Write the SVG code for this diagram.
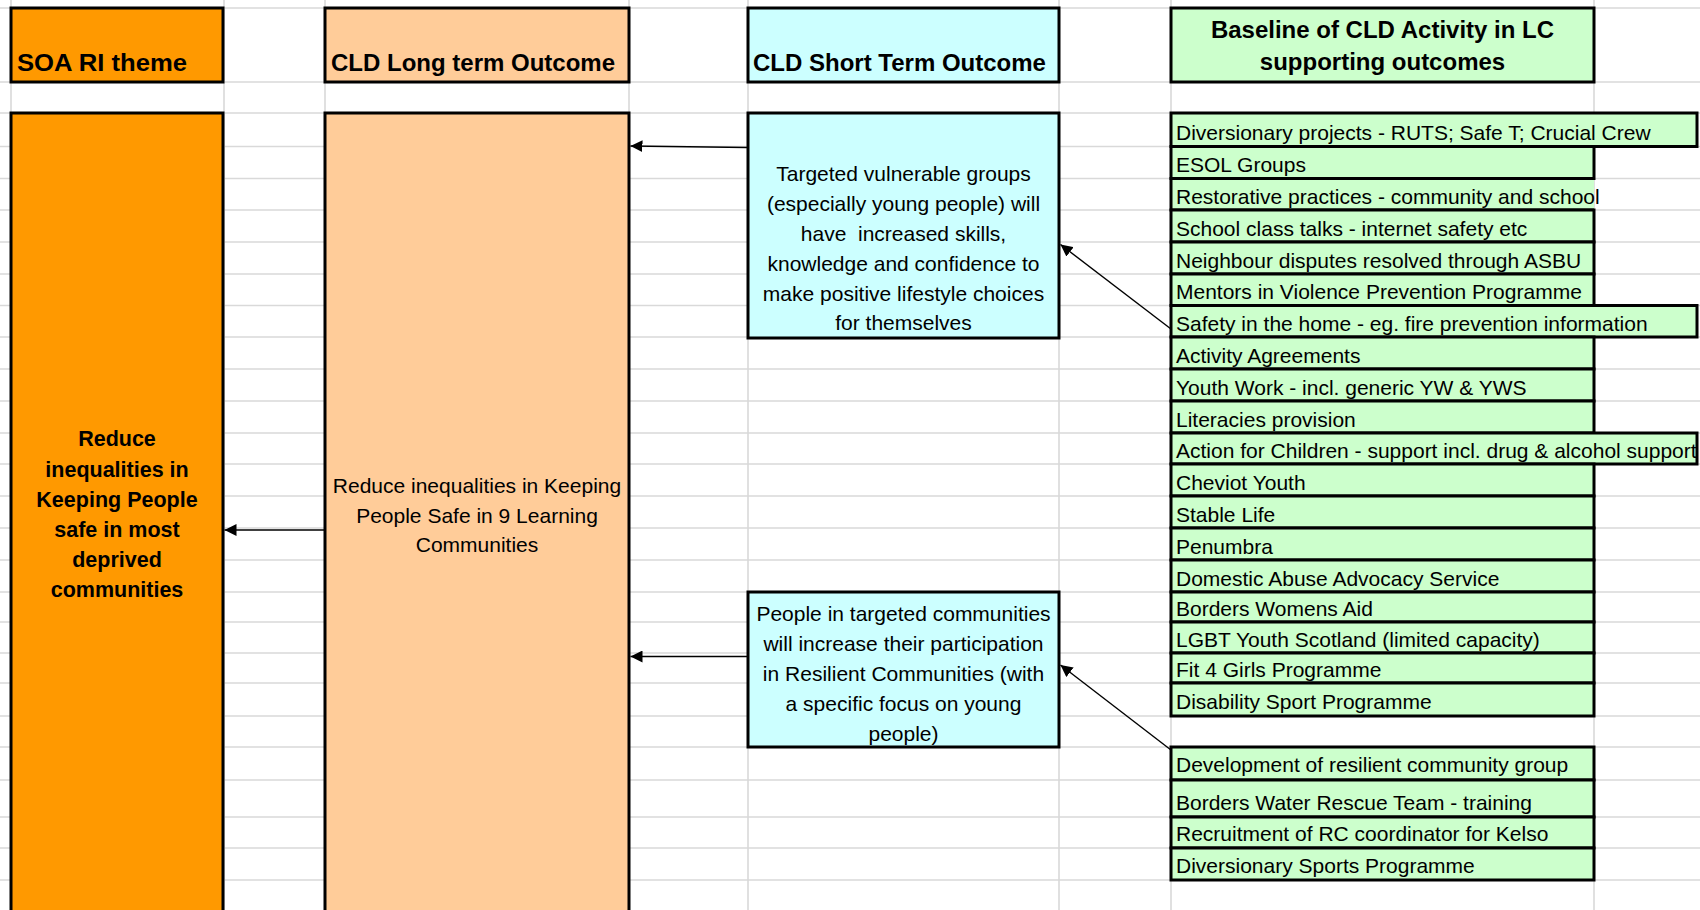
<svg xmlns="http://www.w3.org/2000/svg" width="1700" height="910" viewBox="0 0 1700 910">
<style>
.grid line{stroke:#d9d9d9;stroke-width:1.6}
.box{stroke:#000;stroke-width:3}
.soa{fill:#ff9900}
.lt{fill:#ffcc99}
.st{fill:#ccffff}
.bl{fill:#ccffcc}
text{font-family:"Liberation Sans",Arial,sans-serif;fill:#000}
.hd{font-size:24px;font-weight:bold}
.bd{font-size:21px}
.bb{font-size:21.5px;font-weight:bold}
.c{text-anchor:middle}
.conn line{stroke:#000;stroke-width:1.4}
</style>
<defs>
<marker id="ah" markerUnits="userSpaceOnUse" markerWidth="14" markerHeight="12" refX="12" refY="6" orient="auto">
<path d="M0,0 L12,6 L0,12 Z" fill="#000"/>
</marker>
</defs>
<rect width="1700" height="910" fill="#fff"/>
<g class="grid">
<line x1="0" y1="8" x2="1700" y2="8"/>
<line x1="0" y1="82" x2="1700" y2="82"/>
<line x1="0" y1="113" x2="1700" y2="113"/>
<line x1="0" y1="146.5" x2="1700" y2="146.5"/>
<line x1="0" y1="178.5" x2="1700" y2="178.5"/>
<line x1="0" y1="210" x2="1700" y2="210"/>
<line x1="0" y1="242" x2="1700" y2="242"/>
<line x1="0" y1="274" x2="1700" y2="274"/>
<line x1="0" y1="305.5" x2="1700" y2="305.5"/>
<line x1="0" y1="337" x2="1700" y2="337"/>
<line x1="0" y1="369" x2="1700" y2="369"/>
<line x1="0" y1="401" x2="1700" y2="401"/>
<line x1="0" y1="433" x2="1700" y2="433"/>
<line x1="0" y1="464" x2="1700" y2="464"/>
<line x1="0" y1="496" x2="1700" y2="496"/>
<line x1="0" y1="528" x2="1700" y2="528"/>
<line x1="0" y1="560" x2="1700" y2="560"/>
<line x1="0" y1="592" x2="1700" y2="592"/>
<line x1="0" y1="622" x2="1700" y2="622"/>
<line x1="0" y1="653" x2="1700" y2="653"/>
<line x1="0" y1="683" x2="1700" y2="683"/>
<line x1="0" y1="716" x2="1700" y2="716"/>
<line x1="0" y1="747" x2="1700" y2="747"/>
<line x1="0" y1="780" x2="1700" y2="780"/>
<line x1="0" y1="817" x2="1700" y2="817"/>
<line x1="0" y1="848" x2="1700" y2="848"/>
<line x1="0" y1="880" x2="1700" y2="880"/>
<line x1="11" y1="0" x2="11" y2="910"/>
<line x1="224" y1="0" x2="224" y2="910"/>
<line x1="325" y1="0" x2="325" y2="910"/>
<line x1="629" y1="0" x2="629" y2="910"/>
<line x1="748" y1="0" x2="748" y2="910"/>
<line x1="1059" y1="0" x2="1059" y2="910"/>
<line x1="1171" y1="0" x2="1171" y2="910"/>
<line x1="1594" y1="0" x2="1594" y2="910"/>
</g>

<g id="hdr-soa"><rect class="box soa" x="11" y="8" width="212" height="74"/><text class="hd" x="17" y="71" textLength="170" lengthAdjust="spacingAndGlyphs">SOA RI theme</text></g>
<g id="hdr-long"><rect class="box lt" x="325" y="8" width="304" height="74"/><text class="hd" x="331" y="71">CLD Long term Outcome</text></g>
<g id="hdr-short"><rect class="box st" x="748" y="8" width="311" height="74"/><text class="hd" x="753" y="71">CLD Short Term Outcome</text></g>
<g id="hdr-base"><rect class="box bl" x="1171" y="8" width="423" height="74"/><text class="hd c" x="1382.5" y="38">Baseline of CLD Activity in LC</text><text class="hd c" x="1382.5" y="70">supporting outcomes</text></g>

<g id="soa-theme"><rect class="box soa" x="11" y="113" width="212" height="810"/>
<text class="bb c" x="117" y="446">Reduce</text>
<text class="bb c" x="117" y="477">inequalities in</text>
<text class="bb c" x="117" y="507">Keeping People</text>
<text class="bb c" x="117" y="537">safe in most</text>
<text class="bb c" x="117" y="567">deprived</text>
<text class="bb c" x="117" y="597">communities</text>
</g>
<g id="long-outcome"><rect class="box lt" x="325" y="113" width="304" height="810"/>
<text class="bd c" x="477" y="493">Reduce inequalities in Keeping</text>
<text class="bd c" x="477" y="523">People Safe in 9 Learning</text>
<text class="bd c" x="477" y="552">Communities</text>
</g>
<g id="short-1"><rect class="box st" x="748" y="113" width="311" height="225"/>
<text class="bd c" x="903.5" y="181">Targeted vulnerable groups</text>
<text class="bd c" x="903.5" y="211">(especially young people) will</text>
<text class="bd c" x="903.5" y="241" xml:space="preserve">have  increased skills,</text>
<text class="bd c" x="903.5" y="271">knowledge and confidence to</text>
<text class="bd c" x="903.5" y="301">make positive lifestyle choices</text>
<text class="bd c" x="903.5" y="330">for themselves</text>
</g>
<g id="short-2"><rect class="box st" x="748" y="592" width="311" height="155"/>
<text class="bd c" x="903.5" y="621">People in targeted communities</text>
<text class="bd c" x="903.5" y="651">will increase their participation</text>
<text class="bd c" x="903.5" y="681">in Resilient Communities (with</text>
<text class="bd c" x="903.5" y="711">a specific focus on young</text>
<text class="bd c" x="903.5" y="741">people)</text>
</g>

<g id="activities">
<g id="a1"><rect class="box bl" x="1171" y="113" width="526" height="33.5"/><text class="bd" x="1176" y="140">Diversionary projects - RUTS; Safe T; Crucial Crew</text></g>
<g id="a2"><rect class="box bl" x="1171" y="146.5" width="423" height="32"/><text class="bd" x="1176" y="172">ESOL Groups</text></g>
<g id="a3"><rect class="bl" x="1171" y="178.5" width="423" height="31.5"/><path d="M1594,178.5 H1171 V210 H1594" fill="none" stroke="#000" stroke-width="3"/><text class="bd" x="1176" y="203.5">Restorative practices - community and school</text></g>
<g id="a4"><rect class="box bl" x="1171" y="210" width="423" height="32"/><text class="bd" x="1176" y="235.5">School class talks - internet safety etc</text></g>
<g id="a5"><rect class="box bl" x="1171" y="242" width="423" height="32"/><text class="bd" x="1176" y="267.5">Neighbour disputes resolved through ASBU</text></g>
<g id="a6"><rect class="box bl" x="1171" y="274" width="423" height="31.5"/><text class="bd" x="1176" y="299">Mentors in Violence Prevention Programme</text></g>
<g id="a7"><rect class="box bl" x="1171" y="305.5" width="526" height="31.5"/><text class="bd" x="1176" y="330.5">Safety in the home - eg. fire prevention information</text></g>
<g id="a8"><rect class="box bl" x="1171" y="337" width="423" height="32"/><text class="bd" x="1176" y="362.5">Activity Agreements</text></g>
<g id="a9"><rect class="box bl" x="1171" y="369" width="423" height="32"/><text class="bd" x="1176" y="394.5">Youth Work - incl. generic YW &amp; YWS</text></g>
<g id="a10"><rect class="box bl" x="1171" y="401" width="423" height="32"/><text class="bd" x="1176" y="426.5">Literacies provision</text></g>
<g id="a11"><rect class="box bl" x="1171" y="433" width="526" height="31"/><text class="bd" x="1176" y="457.5">Action for Children - support incl. drug &amp; alcohol support</text></g>
<g id="a12"><rect class="box bl" x="1171" y="464" width="423" height="32"/><text class="bd" x="1176" y="489.5">Cheviot Youth</text></g>
<g id="a13"><rect class="box bl" x="1171" y="496" width="423" height="32"/><text class="bd" x="1176" y="521.5">Stable Life</text></g>
<g id="a14"><rect class="box bl" x="1171" y="528" width="423" height="32"/><text class="bd" x="1176" y="553.5">Penumbra</text></g>
<g id="a15"><rect class="box bl" x="1171" y="560" width="423" height="32"/><text class="bd" x="1176" y="585.5">Domestic Abuse Advocacy Service</text></g>
<g id="a16"><rect class="box bl" x="1171" y="592" width="423" height="30"/><text class="bd" x="1176" y="615.5">Borders Womens Aid</text></g>
<g id="a17"><rect class="box bl" x="1171" y="622" width="423" height="31"/><text class="bd" x="1176" y="646.5">LGBT Youth Scotland (limited capacity)</text></g>
<g id="a18"><rect class="box bl" x="1171" y="653" width="423" height="30"/><text class="bd" x="1176" y="676.5">Fit 4 Girls Programme</text></g>
<g id="a19"><rect class="box bl" x="1171" y="683" width="423" height="33"/><text class="bd" x="1176" y="709">Disability Sport Programme</text></g>
<g id="a20"><rect class="box bl" x="1171" y="747" width="423" height="33"/><text class="bd" x="1176" y="772">Development of resilient community group</text></g>
<g id="a21"><rect class="box bl" x="1171" y="780" width="423" height="37"/><text class="bd" x="1176" y="810">Borders Water Rescue Team - training</text></g>
<g id="a22"><rect class="box bl" x="1171" y="817" width="423" height="31"/><text class="bd" x="1176" y="841">Recruitment of RC coordinator for Kelso</text></g>
<g id="a23"><rect class="box bl" x="1171" y="848" width="423" height="32"/><text class="bd" x="1176" y="873">Diversionary Sports Programme</text></g>
</g>

<g class="conn" id="connectors">
<line x1="747" y1="147.5" x2="630.5" y2="146" marker-end="url(#ah)"/>
<line x1="324" y1="530" x2="224.5" y2="530" marker-end="url(#ah)"/>
<line x1="747" y1="656.5" x2="630.5" y2="656.5" marker-end="url(#ah)"/>
<line x1="1171" y1="329" x2="1060.5" y2="244.5" marker-end="url(#ah)"/>
<line x1="1171" y1="750" x2="1060.5" y2="665" marker-end="url(#ah)"/>
</g>
</svg>
